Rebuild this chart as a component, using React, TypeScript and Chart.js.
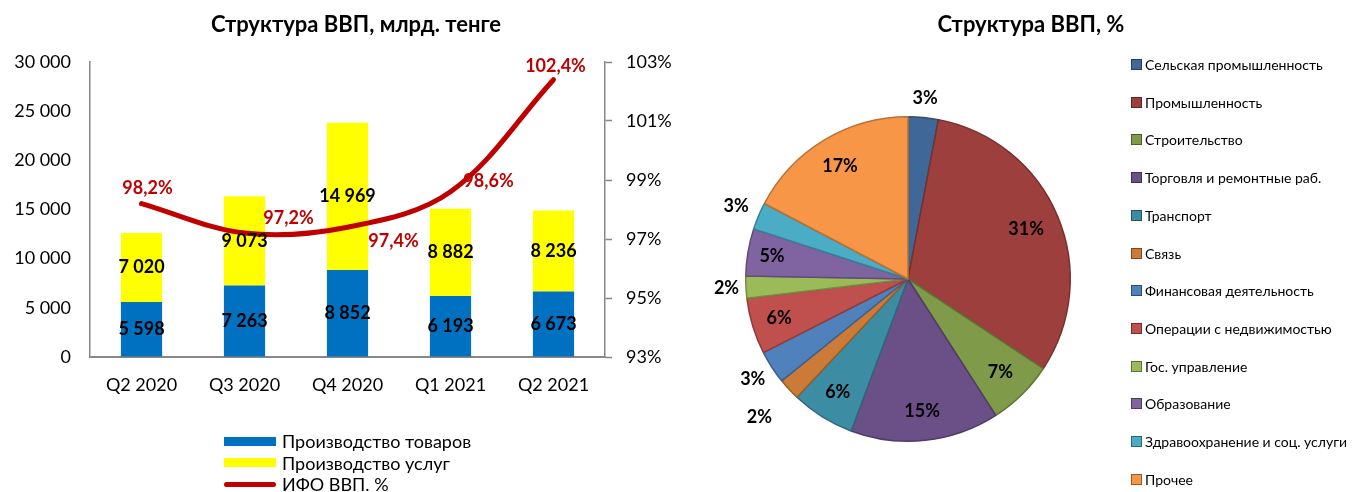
import React, { useEffect, useRef } from 'react';
import { Chart, registerables } from 'chart.js';

Chart.register(...registerables);

const FONT = 'Lato, "Open Sans", "DejaVu Sans", sans-serif';

// ---- Left chart data ----
const QUARTERS = ['Q2 2020', 'Q3 2020', 'Q4 2020', 'Q1 2021', 'Q2 2021'];
const GOODS = [5598, 7263, 8852, 6193, 6673];
const SERVICES = [7020, 9073, 14969, 8882, 8236];
const IFO = [98.2, 97.2, 97.4, 98.6, 102.4];
const LEFT_AXIS = { min: 0, max: 30000, step: 5000 };
const RIGHT_AXIS = { min: 93, max: 103, step: 2 };
const BAR_TITLE = 'Структура ВВП, млрд. тенге';
const BAR_SERIES_NAMES = ['Производство товаров', 'Производство услуг', 'ИФО ВВП. %'];

// ---- Pie chart data ----
const PIE_TITLE = 'Структура ВВП, %';
const SECTORS = [
  'Сельская промышленность',
  'Промышленность',
  'Строительство',
  'Торговля и ремонтные раб.',
  'Транспорт',
  'Связь',
  'Финансовая деятельность',
  'Операции с недвижимостью',
  'Гос. управление',
  'Образование',
  'Здравоохранение и соц. услуги',
  'Прочее',
];
const SHARES = [3.0, 31.3, 6.6, 14.8, 6.3, 2.2, 3.3, 5.6, 2.2, 4.7, 2.7, 17.3];

// ---- styles ----
const GOODS_COLOR = '#0070C0';
const SERVICES_COLOR = '#FFFF00';
const IFO_COLOR = '#C00000';
const AXIS_COLOR = '#878787';
const SECTOR_COLORS = [
  '#3F6898', '#9D403D', '#7F9A48', '#6A5086', '#3C8CA3', '#CC7A37',
  '#4F81BD', '#C0504D', '#9BBB59', '#8064A2', '#4BACC6', '#F79646',
];
// label offsets (px) for the IFO point labels, relative to each point
const IFO_LABEL_OFFSETS = [[6, -15], [44, -15], [46, 14], [38, -11], [2, -14]];
// radial position of the pie labels, as a fraction of the radius
const PIE_LABEL_DIST = [1.12, 0.79, 0.81, 0.82, 0.82, 1.25, 1.14, 0.83, 1.12, 0.85, 1.15, 0.81];

function darken(hex: string, f = 0.75) {
  const n = parseInt(hex.slice(1), 16);
  const r = Math.round(((n >> 16) & 255) * f);
  const g = Math.round(((n >> 8) & 255) * f);
  const b = Math.round((n & 255) * f);
  return `rgb(${r},${g},${b})`;
}

function fmtThousands(v: number) {
  return String(Math.round(v)).replace(/\B(?=(\d{3})+(?!\d))/g, ' ');
}

const barLabelsPlugin = {
  id: 'barLabels',
  afterDatasetsDraw(chart: any) {
    const ctx = chart.ctx;
    ctx.save();
    chart.data.datasets.forEach((ds: any, di: number) => {
      const meta = chart.getDatasetMeta(di);
      if (meta.hidden) return;
      meta.data.forEach((el: any, i: number) => {
        const v = ds.data[i];
        ctx.font = `bold 18px ${FONT}`;
        ctx.textAlign = 'center';
        ctx.textBaseline = 'middle';
        if (meta.type === 'bar') {
          ctx.fillStyle = '#000';
          ctx.fillText(fmtThousands(v), el.x, (el.y + el.base) / 2);
        } else {
          const [dx, dy] = IFO_LABEL_OFFSETS[i];
          ctx.fillStyle = IFO_COLOR;
          ctx.fillText(v.toFixed(1).replace('.', ',') + '%', el.x + dx, el.y + dy);
        }
      });
    });
    ctx.restore();
  },
};

const pieLabelsPlugin = {
  id: 'pieLabels',
  afterDatasetsDraw(chart: any) {
    const ctx = chart.ctx;
    const meta = chart.getDatasetMeta(0);
    ctx.save();
    ctx.font = `bold 18px ${FONT}`;
    ctx.fillStyle = '#000';
    ctx.textAlign = 'center';
    ctx.textBaseline = 'middle';
    meta.data.forEach((arc: any, i: number) => {
      const { x, y, startAngle, endAngle, outerRadius } = arc.getProps(
        ['x', 'y', 'startAngle', 'endAngle', 'outerRadius'], true);
      const mid = (startAngle + endAngle) / 2;
      const r = outerRadius * PIE_LABEL_DIST[i];
      ctx.fillText(Math.round(SHARES[i]) + '%', x + Math.cos(mid) * r, y + Math.sin(mid) * r);
    });
    // chart title, centred over the whole canvas (not only the pie area)
    ctx.font = `bold 22px ${FONT}`;
    ctx.fillText(PIE_TITLE, chart.width / 2 + 3, 25);
    ctx.restore();
  },
};

function BarChart() {
  const ref = useRef<HTMLCanvasElement>(null);
  useEffect(() => {
    const chart = new Chart(ref.current as HTMLCanvasElement, {
      type: 'bar',
      data: {
        labels: QUARTERS,
        datasets: [
          {
            type: 'line',
            label: BAR_SERIES_NAMES[2],
            data: IFO,
            yAxisID: 'y1',
            borderColor: IFO_COLOR,
            backgroundColor: IFO_COLOR,
            borderWidth: 5,
            pointRadius: 0,
            tension: 0.35,
            borderCapStyle: 'round',
            order: 0,
          } as any,
          {
            label: BAR_SERIES_NAMES[0],
            data: GOODS,
            backgroundColor: GOODS_COLOR,
            yAxisID: 'y',
            order: 1,
            barPercentage: 0.4,
            categoryPercentage: 1,
          },
          {
            label: BAR_SERIES_NAMES[1],
            data: SERVICES,
            backgroundColor: SERVICES_COLOR,
            yAxisID: 'y',
            order: 2,
            barPercentage: 0.4,
            categoryPercentage: 1,
          },
        ],
      },
      options: {
        animation: false,
        responsive: false,
        maintainAspectRatio: false,
        layout: { padding: { left: 12, right: 0, top: 0, bottom: 0 } },
        plugins: {
          legend: { display: false },
          tooltip: { enabled: false },
          title: {
            display: true,
            text: BAR_TITLE,
            color: '#000',
            font: { family: FONT, size: 22, weight: 'bold' },
            padding: { top: 12, bottom: 23.6 },
          },
        },
        scales: {
          x: {
            stacked: true,
            grid: { display: true, drawOnChartArea: false, drawTicks: false },
            border: { color: AXIS_COLOR, width: 2 },
            ticks: { color: '#000', font: { family: FONT, size: 18 }, padding: 17 },
            afterFit: (s: any) => { s.height = 135; },
          },
          y: {
            stacked: true,
            position: 'left',
            min: LEFT_AXIS.min,
            max: LEFT_AXIS.max,
            grid: { display: true, drawOnChartArea: false, drawTicks: false },
            border: { color: AXIS_COLOR, width: 1.5 },
            ticks: {
              stepSize: LEFT_AXIS.step,
              color: '#000',
              font: { family: FONT, size: 18 },
              padding: 19,
              callback: (v: any) => fmtThousands(Number(v)),
            },
            afterFit: (s: any) => { s.width = 78; },
          },
          y1: {
            position: 'right',
            min: RIGHT_AXIS.min,
            max: RIGHT_AXIS.max,
            grid: { display: true, drawOnChartArea: false, drawTicks: true, tickLength: 7, color: AXIS_COLOR, tickWidth: 1.5 },
            border: { color: AXIS_COLOR, width: 1.5 },
            ticks: {
              stepSize: RIGHT_AXIS.step,
              color: '#000',
              font: { family: FONT, size: 18 },
              padding: 14,
              callback: (v: any) => v + '%',
            },
            afterFit: (s: any) => { s.width = 95; },
          },
        },
      } as any,
      plugins: [barLabelsPlugin],
    });
    return () => chart.destroy();
  }, []);
  return <canvas ref={ref} width={700} height={492} style={{ position: 'absolute', left: 0, top: 0 }} />;
}

function PieChart() {
  const ref = useRef<HTMLCanvasElement>(null);
  useEffect(() => {
    const chart = new Chart(ref.current as HTMLCanvasElement, {
      type: 'pie',
      data: {
        labels: SECTORS,
        datasets: [
          {
            data: SHARES,
            backgroundColor: SECTOR_COLORS,
            borderColor: SECTOR_COLORS.map((c) => darken(c)),
            borderWidth: 1.5,
          },
        ],
      },
      options: {
        animation: false,
        responsive: false,
        maintainAspectRatio: false,
        layout: { padding: { left: 45, right: 285, top: 116, bottom: 50 } },
        plugins: {
          legend: { display: false },
          tooltip: { enabled: false },
          title: { display: false, text: PIE_TITLE },
        },
      } as any,
      plugins: [pieLabelsPlugin],
    });
    return () => chart.destroy();
  }, []);
  return <canvas ref={ref} width={656} height={492} style={{ position: 'absolute', left: 700, top: 0 }} />;
}

function BarLegend() {
  const rows = [
    { name: BAR_SERIES_NAMES[0], kind: 'box', color: GOODS_COLOR },
    { name: BAR_SERIES_NAMES[1], kind: 'box', color: SERVICES_COLOR },
    { name: BAR_SERIES_NAMES[2], kind: 'line', color: IFO_COLOR },
  ];
  return (
    <>
      {rows.map((r, i) => (
        <div
          key={r.name}
          style={{
            position: 'absolute', left: 224, top: 441 + i * 21.7 - 11, height: 22,
            display: 'flex', alignItems: 'center', fontFamily: FONT, fontSize: 18, color: '#000', whiteSpace: 'nowrap',
          }}
        >
          {r.kind === 'box' ? (
            <span style={{ display: 'inline-block', width: 52, height: 9, background: r.color, marginRight: 6 }} />
          ) : (
            <span style={{ display: 'inline-block', width: 52, height: 5, borderRadius: 3, background: r.color, marginRight: 6 }} />
          )}
          <span>{r.name}</span>
        </div>
      ))}
    </>
  );
}

function PieLegend() {
  return (
    <>
      {SECTORS.map((name, i) => (
        <div
          key={name}
          style={{
            position: 'absolute', left: 1131, top: 65 + i * 37.7 - 9.5, height: 18,
            display: 'flex', alignItems: 'center', fontFamily: FONT, fontSize: 14, color: '#000', whiteSpace: 'nowrap',
          }}
        >
          <span
            style={{
              display: 'inline-block', width: 9, height: 9, background: SECTOR_COLORS[i],
              border: `1px solid ${darken(SECTOR_COLORS[i], 0.6)}`, marginRight: 3,
            }}
          />
          <span>{name}</span>
        </div>
      ))}
    </>
  );
}

export default function App() {
  return (
    <div style={{ position: 'absolute', left: 0, top: 0, width: 1356, height: 492, background: '#fff', overflow: 'hidden' }}>
      <BarChart />
      <PieChart />
      <BarLegend />
      <PieLegend />
    </div>
  );
}
